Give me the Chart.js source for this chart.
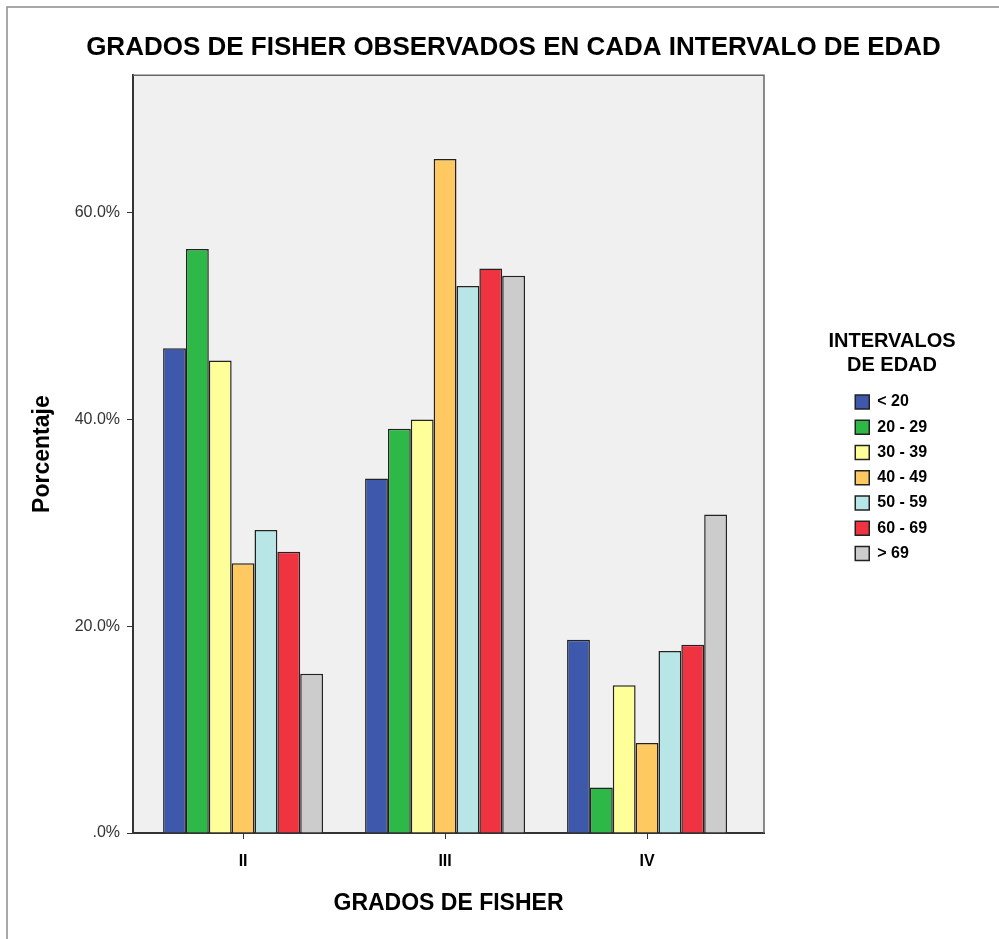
<!DOCTYPE html>
<html lang="es">
<head>
    <meta charset="UTF-8">
    <title>Grados de Fisher por intervalo de edad</title>
    <script src="https://cdn.jsdelivr.net/npm/chart.js"></script>
    <style>
        body {
            margin: 0;
            padding: 0;
            background: #fff;
        }
        .contenedor {
            position: relative;
            width: 999px;
            height: 939px;
        }
    </style>
</head>
<body>
    <div class="contenedor">
        <canvas id="fisherChart"></canvas>
    </div>
    <script>
        // Datos (porcentaje por grado de Fisher)
        const grados = ['II', 'III', 'IV'];
        const intervalos = ['< 20', '20 - 29', '30 - 39', '40 - 49', '50 - 59', '60 - 69', '> 69'];
        const menos20 = [46.9, 34.3, 18.7];
        const de20a29 = [56.5, 39.1, 4.4];
        const de30a39 = [45.7, 40.0, 14.3];
        const de40a49 = [26.1, 65.2, 8.7];
        const de50a59 = [29.3, 52.9, 17.6];
        const de60a69 = [27.2, 54.6, 18.2];
        const mas69 = [15.4, 53.9, 30.8];
        const ticksY = [0, 20, 40, 60];
        const maxY = 73.3;
        const tituloLeyenda = ['INTERVALOS', 'DE EDAD'];

        const series = [menos20, de20a29, de30a39, de40a49, de50a59, de60a69, mas69];
        const colores = ['#3e58ac', '#2eb848', '#ffff99', '#ffc962', '#b8e6e6', '#ef3340', '#cccccc'];
        const fuente = "'Liberation Sans', Arial, sans-serif";

        // fondo gris del area, marco, borde de la imagen y titulo de la leyenda
        const marco = {
            id: 'marco',
            afterLayout(chart) {
                const leyenda = chart.legend;
                const dx = chart.chartArea.right + 82 - leyenda.left;
                leyenda.left += dx;
                leyenda.right += dx;
                leyenda.top = 384.75;
                chart.titleBlock.left += 14;
                chart.titleBlock.right += 14;
            },
            beforeDraw(chart) {
                const { ctx, chartArea: a } = chart;
                ctx.save();
                ctx.fillStyle = '#fff';
                ctx.fillRect(0, 0, chart.width, chart.height);
                ctx.strokeStyle = '#8c8c8c';
                ctx.lineWidth = 1.5;
                ctx.beginPath();
                ctx.moveTo(7, chart.height);
                ctx.lineTo(7, 7);
                ctx.lineTo(chart.width, 7);
                ctx.stroke();
                ctx.fillStyle = '#f0f0f0';
                ctx.fillRect(a.left, a.top, a.width, a.height);
                ctx.restore();
            },
            beforeDatasetsDraw(chart) {
                const { ctx, chartArea: a } = chart;
                ctx.save();
                ctx.strokeStyle = '#666';
                ctx.lineWidth = 1.5;
                ctx.beginPath();
                ctx.moveTo(a.left, a.top);
                ctx.lineTo(a.right, a.top);
                ctx.lineTo(a.right, a.bottom);
                ctx.stroke();
                ctx.restore();
            },
            afterDraw(chart) {
                const { ctx } = chart;
                ctx.save();
                ctx.fillStyle = '#000';
                ctx.font = "bold 20px " + fuente;
                ctx.textAlign = 'center';
                ctx.textBaseline = 'middle';
                tituloLeyenda.forEach((linea, i) => ctx.fillText(linea, 892, 341 + i * 24));
                ctx.restore();
            }
        };

        const ctx = document.getElementById('fisherChart').getContext('2d');
        new Chart(ctx, {
            type: 'bar',
            data: {
                labels: grados,
                datasets: intervalos.map((nombre, i) => ({
                    label: nombre,
                    data: series[i],
                    backgroundColor: colores[i],
                    borderColor: '#222',
                    borderWidth: 1.5,
                    categoryPercentage: 0.792,
                    barPercentage: 1
                }))
            },
            options: {
                responsive: true,
                maintainAspectRatio: false,
                animation: false,
                layout: { padding: 0 },
                plugins: {
                    title: {
                        display: true,
                        text: 'GRADOS DE FISHER OBSERVADOS EN CADA INTERVALO DE EDAD',
                        color: '#000',
                        font: { family: fuente, size: 26, weight: 'bold' },
                        padding: { top: 32, bottom: 12 }
                    },
                    legend: {
                        position: 'right',
                        align: 'start',
                        labels: {
                            color: '#000',
                            boxWidth: 14,
                            boxHeight: 14,
                            padding: 9.25,
                            font: { family: fuente, size: 16, weight: 'bold' }
                        }
                    },
                    tooltip: { enabled: false }
                },
                scales: {
                    x: {
                        offset: true,
                        grid: { display: true, offset: false, drawOnChartArea: false, tickLength: 6, color: '#333' },
                        border: { display: true, color: '#333', width: 2 },
                        ticks: {
                            color: '#000',
                            padding: 13,
                            font: { family: fuente, size: 16, weight: 'bold' }
                        },
                        title: {
                            display: true,
                            text: 'GRADOS DE FISHER',
                            color: '#000',
                            font: { family: fuente, size: 23, weight: 'bold' },
                            padding: { top: 0, bottom: 22 }
                        },
                        afterBuildTicks: (scale) => {
                            // grupos separados como en el original
                            scale._startValue = -0.545;
                            scale._valueRange = 3.124;
                        },
                        afterFit: (scale) => { scale.height = 106; }
                    },
                    y: {
                        min: 0,
                        max: maxY,
                        grid: { display: true, drawOnChartArea: false, tickLength: 6, color: '#333' },
                        border: { display: true, color: '#333', width: 2 },
                        afterBuildTicks: (scale) => {
                            scale.ticks = ticksY.map(v => ({ value: v }));
                        },
                        ticks: {
                            color: '#333',
                            padding: 7,
                            font: { family: fuente, size: 16 },
                            callback: (v) => v === 0 ? '.0%' : v.toFixed(1) + '%'
                        },
                        title: {
                            display: true,
                            text: 'Porcentaje',
                            color: '#000',
                            font: { family: fuente, size: 23, weight: 'bold' },
                            padding: { top: 29, bottom: 0 }
                        },
                        afterFit: (scale) => { scale.width = 133; }
                    },
                    margen: {
                        type: 'linear',
                        position: 'right',
                        display: true,
                        grid: { display: false },
                        border: { display: false },
                        ticks: { display: false },
                        afterFit: (scale) => {
                            const anchoLeyenda = scale.chart.legend ? scale.chart.legend.width : 0;
                            scale.width = scale.chart.width - 764 - anchoLeyenda;
                        }
                    }
                }
            },
            plugins: [marco]
        });
    </script>
</body>
</html>
